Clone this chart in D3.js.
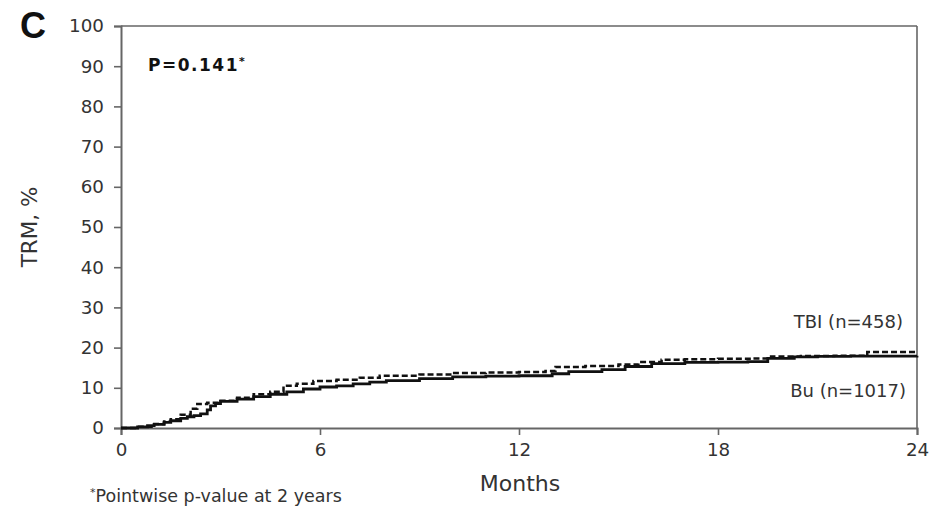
<!DOCTYPE html>
<html>
<head>
<meta charset="utf-8">
<script src="https://cdn.jsdelivr.net/npm/d3@7"></script>
<style>
  html, body { margin: 0; padding: 0; background: #fff; }
  svg { display: block; font-family: "DejaVu Sans", Verdana, sans-serif; }
</style>
</head>
<body>
<svg id="chart" width="930" height="507"></svg>
<script>
// Cumulative incidence of transplant-related mortality (TRM), months vs %
const monthTicks = [0, 6, 12, 18, 24];
const pctTicks = [0, 10, 20, 30, 40, 50, 60, 70, 80, 90, 100];

const tbiMonths = [0, 0.5, 1.0, 1.3, 1.5, 1.8, 2.1, 2.3, 2.6, 3.0, 3.5, 4.0, 4.5, 4.9, 5.3, 5.8, 6.5, 7.2, 7.8, 9, 10, 11, 12, 12.8, 13.1, 14, 15, 15.6, 16.3, 17, 18, 19, 19.6, 20.5, 21.5, 22.5, 24];
const tbiValues = [0, 0.3, 1.0, 1.6, 2.2, 3.3, 4.8, 6.0, 6.3, 6.8, 7.5, 8.4, 9.0, 10.5, 11.0, 11.7, 12.0, 12.5, 13.0, 13.3, 13.7, 13.8, 13.9, 14.2, 15.2, 15.4, 15.8, 16.4, 17.0, 17.1, 17.2, 17.3, 17.8, 17.9, 18.0, 18.9, 19.0];

const buMonths = [0, 0.5, 0.8, 1.0, 1.3, 1.5, 1.8, 2.0, 2.2, 2.4, 2.6, 2.7, 2.85, 3.0, 3.5, 4.0, 4.5, 5.0, 5.5, 6.0, 6.5, 7.0, 7.5, 8, 9, 10, 11, 12, 13, 13.5, 14.5, 15.2, 16, 17, 18, 18.9, 19.5, 20.3, 21, 22, 24];
const buValues = [0, 0.3, 0.6, 0.9, 1.4, 1.8, 2.4, 2.8, 3.1, 3.5, 4.5, 5.5, 6.1, 6.6, 7.2, 7.8, 8.4, 9.0, 9.7, 10.2, 10.5, 11.0, 11.4, 11.8, 12.3, 12.7, 12.9, 13.0, 13.5, 14.0, 14.5, 15.3, 16.0, 16.3, 16.4, 16.5, 17.3, 17.7, 17.8, 17.9, 18.0];

const svg = d3.select("#chart");
const plotL = 121, plotR = 917, plotT = 26, plotB = 428;

const x = d3.scaleLinear().domain([0, 24]).range([plotL, plotR]);
const y = d3.scaleLinear().domain([0, 100]).range([plotB, plotT]);

const axisColor = "#666";
const textColor = "#333";

// frame: top and right borders
svg.append("line").attr("x1", plotL).attr("x2", plotR).attr("y1", plotT).attr("y2", plotT)
  .attr("stroke", axisColor).attr("stroke-width", 1.6);
svg.append("line").attr("x1", plotR).attr("x2", plotR).attr("y1", plotT).attr("y2", plotB)
  .attr("stroke", axisColor).attr("stroke-width", 1.6);

// x axis
const gx = svg.append("g").attr("transform", `translate(0,${plotB})`)
  .call(d3.axisBottom(x).tickValues(monthTicks).tickSize(7).tickPadding(8).tickFormat(d3.format("d")));
// y axis
const gy = svg.append("g").attr("transform", `translate(${plotL},0)`)
  .call(d3.axisLeft(y).tickValues(pctTicks).tickSize(7).tickPadding(10).tickFormat(d3.format("d")));

[gx, gy].forEach(g => {
  g.select(".domain").attr("stroke", axisColor).attr("stroke-width", 2);
  g.selectAll(".tick line").attr("stroke", axisColor).attr("stroke-width", 1.6);
  g.selectAll(".tick text").attr("fill", textColor).style("font-size", "18.3px")
    .style("font-family", '"DejaVu Sans", Verdana, sans-serif');
});

// curves
const line = d3.line().curve(d3.curveStepAfter).x(d => x(d[0])).y(d => y(d[1]));
const tbi = d3.zip(tbiMonths, tbiValues);
const bu = d3.zip(buMonths, buValues);

svg.append("path").datum(bu).attr("d", line)
  .attr("fill", "none").attr("stroke", "#111").attr("stroke-width", 2.8);
svg.append("path").datum(tbi).attr("d", line)
  .attr("fill", "none").attr("stroke", "#111").attr("stroke-width", 2.5)
  .attr("stroke-dasharray", "6,3");

// panel letter
svg.append("text").attr("x", 20).attr("y", 38).text("C")
  .attr("font-weight", "bold").attr("font-size", 36).attr("fill", "#111")
  .attr("font-family", "Arial, Liberation Sans, sans-serif");

// p-value
const pt = svg.append("text").attr("x", 148).attr("y", 71)
  .attr("font-weight", "bold").attr("font-size", 17).attr("letter-spacing", 1.5).attr("fill", "#111");
pt.append("tspan").text("P=0.141");
pt.append("tspan").text("*").attr("font-size", 11).attr("dy", -6);

// series labels
svg.append("text").attr("x", 903).attr("y", 328).attr("text-anchor", "end")
  .attr("font-size", 18).attr("fill", textColor).text("TBI (n=458)");
svg.append("text").attr("x", 906).attr("y", 397).attr("text-anchor", "end")
  .attr("font-size", 18).attr("fill", textColor).text("Bu (n=1017)");

// axis titles
svg.append("text").attr("x", 520).attr("y", 491).attr("text-anchor", "middle")
  .attr("font-size", 22).attr("fill", textColor).text("Months");
svg.append("text").attr("transform", "translate(37,227) rotate(-90)")
  .attr("text-anchor", "middle").attr("font-size", 21.5).attr("fill", textColor).text("TRM, %");

// footnote
const fn = svg.append("text").attr("x", 90).attr("y", 502)
  .attr("font-size", 17.5).attr("fill", textColor);
fn.append("tspan").text("*").attr("font-size", 11).attr("dy", -6);
fn.append("tspan").text("Pointwise p-value at 2 years").attr("dy", 6);
</script>
</body>
</html>
